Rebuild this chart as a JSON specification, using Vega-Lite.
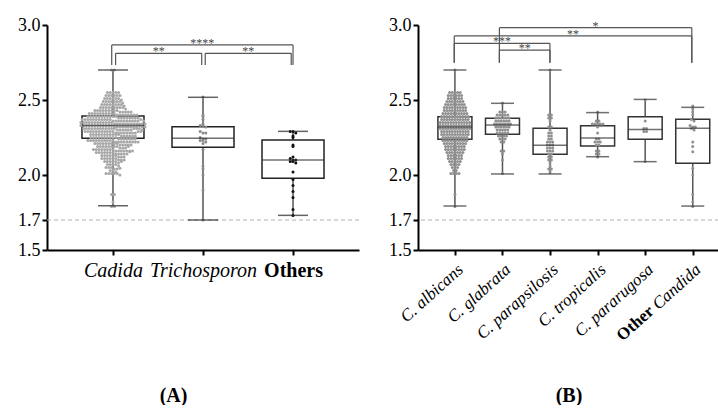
{
"$schema":"https://vega.github.io/schema/vega-lite/v6.json",
"background":"white",
"padding":{"left":17,"top":16,"right":0,"bottom":0},
"bounds":"flush",
"spacing":59,
"config":{"font":"Liberation Serif, Times New Roman, serif","view":{"stroke":null},
 "axis":{"domainColor":"#000","domainWidth":2,"tickColor":"#000","tickWidth":2,"tickSize":5,"labelColor":"#000","labelFont":"Liberation Serif, Times New Roman, serif","titleFont":"Liberation Serif, Times New Roman, serif","titleColor":"#000","grid":false},
 "text":{"font":"Liberation Serif, Times New Roman, serif"}},
"datasets":{
"ref":[{"ref":1.7}],
"otherLabel":[{"g":"Other Candida","t":"Other"}],
"boxA":[
{"g":"Cadida","lo":1.795,"q1":2.245,"med":2.33,"q3":2.393,"hi":2.70},
{"g":"Trichosporon","lo":1.70,"q1":2.185,"med":2.245,"q3":2.322,"hi":2.518},
{"g":"Others","lo":1.731,"q1":1.978,"med":2.10,"q3":2.233,"hi":2.291}],
"boxB":[
{"g":"C. albicans","lo":1.793,"q1":2.238,"med":2.32,"q3":2.389,"hi":2.70},
{"g":"C. glabrata","lo":2.007,"q1":2.271,"med":2.333,"q3":2.378,"hi":2.478},
{"g":"C. parapsilosis","lo":2.007,"q1":2.138,"med":2.198,"q3":2.311,"hi":2.70},
{"g":"C. tropicalis","lo":2.122,"q1":2.193,"med":2.247,"q3":2.329,"hi":2.416},
{"g":"C. pararugosa","lo":2.089,"q1":2.238,"med":2.304,"q3":2.389,"hi":2.504},
{"g":"Other Candida","lo":1.793,"q1":2.078,"med":2.311,"q3":2.371,"hi":2.451}],
"brA":[
{"x1":0.986,"x2":3.0,"y":2.867,"yb":2.733,"t":"****"},
{"x1":1.029,"x2":1.986,"y":2.811,"yb":2.733,"t":"**"},
{"x1":2.025,"x2":2.98,"y":2.811,"yb":2.733,"t":"**"}],
"brB":[
{"x1":1.935,"x2":5.98,"y":2.982,"yb":2.749,"t":"*"},
{"x1":0.986,"x2":5.98,"y":2.927,"yb":2.749,"t":"**"},
{"x1":0.986,"x2":2.998,"y":2.878,"yb":2.749,"t":"***"},
{"x1":1.935,"x2":2.998,"y":2.833,"yb":2.749,"t":"**"}],
"pts":[
{"b":"C. albicans","v":2.70},
{"b":"C. albicans","v":2.55},{"b":"C. albicans","v":2.55},{"b":"C. albicans","v":2.55},{"b":"C. albicans","v":2.55},{"b":"C. albicans","v":2.55},
{"b":"C. albicans","v":2.53},{"b":"C. albicans","v":2.53},{"b":"C. albicans","v":2.53},{"b":"C. albicans","v":2.53},{"b":"C. albicans","v":2.53},{"b":"C. albicans","v":2.53},
{"b":"C. albicans","v":2.51},{"b":"C. albicans","v":2.51},{"b":"C. albicans","v":2.51},{"b":"C. albicans","v":2.51},{"b":"C. albicans","v":2.51},{"b":"C. albicans","v":2.51},
{"b":"C. albicans","v":2.49},{"b":"C. albicans","v":2.49},{"b":"C. albicans","v":2.49},{"b":"C. albicans","v":2.49},{"b":"C. albicans","v":2.49},{"b":"C. albicans","v":2.49},{"b":"C. albicans","v":2.49},
{"b":"C. albicans","v":2.47},{"b":"C. albicans","v":2.47},{"b":"C. albicans","v":2.47},{"b":"C. albicans","v":2.47},{"b":"C. albicans","v":2.47},{"b":"C. albicans","v":2.47},{"b":"C. albicans","v":2.47},{"b":"C. albicans","v":2.47},
{"b":"C. albicans","v":2.45},{"b":"C. albicans","v":2.45},{"b":"C. albicans","v":2.45},{"b":"C. albicans","v":2.45},{"b":"C. albicans","v":2.45},{"b":"C. albicans","v":2.45},{"b":"C. albicans","v":2.45},{"b":"C. albicans","v":2.45},{"b":"C. albicans","v":2.45},
{"b":"C. albicans","v":2.43},{"b":"C. albicans","v":2.43},{"b":"C. albicans","v":2.43},{"b":"C. albicans","v":2.43},{"b":"C. albicans","v":2.43},{"b":"C. albicans","v":2.43},{"b":"C. albicans","v":2.43},{"b":"C. albicans","v":2.43},{"b":"C. albicans","v":2.43},
{"b":"C. albicans","v":2.41},{"b":"C. albicans","v":2.41},{"b":"C. albicans","v":2.41},{"b":"C. albicans","v":2.41},{"b":"C. albicans","v":2.41},{"b":"C. albicans","v":2.41},{"b":"C. albicans","v":2.41},{"b":"C. albicans","v":2.41},{"b":"C. albicans","v":2.41},{"b":"C. albicans","v":2.41},
{"b":"C. albicans","v":2.39},{"b":"C. albicans","v":2.39},{"b":"C. albicans","v":2.39},{"b":"C. albicans","v":2.39},{"b":"C. albicans","v":2.39},{"b":"C. albicans","v":2.39},{"b":"C. albicans","v":2.39},{"b":"C. albicans","v":2.39},{"b":"C. albicans","v":2.39},{"b":"C. albicans","v":2.39},{"b":"C. albicans","v":2.39},
{"b":"C. albicans","v":2.37},{"b":"C. albicans","v":2.37},{"b":"C. albicans","v":2.37},{"b":"C. albicans","v":2.37},{"b":"C. albicans","v":2.37},{"b":"C. albicans","v":2.37},{"b":"C. albicans","v":2.37},{"b":"C. albicans","v":2.37},{"b":"C. albicans","v":2.37},{"b":"C. albicans","v":2.37},{"b":"C. albicans","v":2.37},
{"b":"C. albicans","v":2.35},{"b":"C. albicans","v":2.35},{"b":"C. albicans","v":2.35},{"b":"C. albicans","v":2.35},{"b":"C. albicans","v":2.35},{"b":"C. albicans","v":2.35},{"b":"C. albicans","v":2.35},{"b":"C. albicans","v":2.35},{"b":"C. albicans","v":2.35},{"b":"C. albicans","v":2.35},{"b":"C. albicans","v":2.35},{"b":"C. albicans","v":2.35},
{"b":"C. albicans","v":2.33},{"b":"C. albicans","v":2.33},{"b":"C. albicans","v":2.33},{"b":"C. albicans","v":2.33},{"b":"C. albicans","v":2.33},{"b":"C. albicans","v":2.33},{"b":"C. albicans","v":2.33},{"b":"C. albicans","v":2.33},{"b":"C. albicans","v":2.33},{"b":"C. albicans","v":2.33},{"b":"C. albicans","v":2.33},{"b":"C. albicans","v":2.33},
{"b":"C. albicans","v":2.31},{"b":"C. albicans","v":2.31},{"b":"C. albicans","v":2.31},{"b":"C. albicans","v":2.31},{"b":"C. albicans","v":2.31},{"b":"C. albicans","v":2.31},{"b":"C. albicans","v":2.31},{"b":"C. albicans","v":2.31},{"b":"C. albicans","v":2.31},{"b":"C. albicans","v":2.31},{"b":"C. albicans","v":2.31},{"b":"C. albicans","v":2.31},
{"b":"C. albicans","v":2.29},{"b":"C. albicans","v":2.29},{"b":"C. albicans","v":2.29},{"b":"C. albicans","v":2.29},{"b":"C. albicans","v":2.29},{"b":"C. albicans","v":2.29},{"b":"C. albicans","v":2.29},{"b":"C. albicans","v":2.29},{"b":"C. albicans","v":2.29},{"b":"C. albicans","v":2.29},{"b":"C. albicans","v":2.29},
{"b":"C. albicans","v":2.27},{"b":"C. albicans","v":2.27},{"b":"C. albicans","v":2.27},{"b":"C. albicans","v":2.27},{"b":"C. albicans","v":2.27},{"b":"C. albicans","v":2.27},{"b":"C. albicans","v":2.27},{"b":"C. albicans","v":2.27},{"b":"C. albicans","v":2.27},{"b":"C. albicans","v":2.27},{"b":"C. albicans","v":2.27},
{"b":"C. albicans","v":2.25},{"b":"C. albicans","v":2.25},{"b":"C. albicans","v":2.25},{"b":"C. albicans","v":2.25},{"b":"C. albicans","v":2.25},{"b":"C. albicans","v":2.25},{"b":"C. albicans","v":2.25},{"b":"C. albicans","v":2.25},{"b":"C. albicans","v":2.25},{"b":"C. albicans","v":2.25},
{"b":"C. albicans","v":2.23},{"b":"C. albicans","v":2.23},{"b":"C. albicans","v":2.23},{"b":"C. albicans","v":2.23},{"b":"C. albicans","v":2.23},{"b":"C. albicans","v":2.23},{"b":"C. albicans","v":2.23},{"b":"C. albicans","v":2.23},{"b":"C. albicans","v":2.23},{"b":"C. albicans","v":2.23},
{"b":"C. albicans","v":2.21},{"b":"C. albicans","v":2.21},{"b":"C. albicans","v":2.21},{"b":"C. albicans","v":2.21},{"b":"C. albicans","v":2.21},{"b":"C. albicans","v":2.21},{"b":"C. albicans","v":2.21},{"b":"C. albicans","v":2.21},{"b":"C. albicans","v":2.21},
{"b":"C. albicans","v":2.19},{"b":"C. albicans","v":2.19},{"b":"C. albicans","v":2.19},{"b":"C. albicans","v":2.19},{"b":"C. albicans","v":2.19},{"b":"C. albicans","v":2.19},{"b":"C. albicans","v":2.19},{"b":"C. albicans","v":2.19},
{"b":"C. albicans","v":2.17},{"b":"C. albicans","v":2.17},{"b":"C. albicans","v":2.17},{"b":"C. albicans","v":2.17},{"b":"C. albicans","v":2.17},{"b":"C. albicans","v":2.17},{"b":"C. albicans","v":2.17},{"b":"C. albicans","v":2.17},
{"b":"C. albicans","v":2.15},{"b":"C. albicans","v":2.15},{"b":"C. albicans","v":2.15},{"b":"C. albicans","v":2.15},{"b":"C. albicans","v":2.15},{"b":"C. albicans","v":2.15},{"b":"C. albicans","v":2.15},
{"b":"C. albicans","v":2.13},{"b":"C. albicans","v":2.13},{"b":"C. albicans","v":2.13},{"b":"C. albicans","v":2.13},{"b":"C. albicans","v":2.13},{"b":"C. albicans","v":2.13},
{"b":"C. albicans","v":2.11},{"b":"C. albicans","v":2.11},{"b":"C. albicans","v":2.11},{"b":"C. albicans","v":2.11},{"b":"C. albicans","v":2.11},{"b":"C. albicans","v":2.11},
{"b":"C. albicans","v":2.09},{"b":"C. albicans","v":2.09},{"b":"C. albicans","v":2.09},{"b":"C. albicans","v":2.09},{"b":"C. albicans","v":2.09},
{"b":"C. albicans","v":2.07},{"b":"C. albicans","v":2.07},{"b":"C. albicans","v":2.07},{"b":"C. albicans","v":2.07},
{"b":"C. albicans","v":2.05},{"b":"C. albicans","v":2.05},{"b":"C. albicans","v":2.05},
{"b":"C. albicans","v":2.03},{"b":"C. albicans","v":2.03},
{"b":"C. albicans","v":2.01},{"b":"C. albicans","v":2.01},{"b":"C. albicans","v":2.01},{"b":"C. albicans","v":2.01},
{"b":"C. albicans","v":1.87},
{"b":"C. albicans","v":1.79},
{"b":"C. glabrata","v":2.48},
{"b":"C. glabrata","v":2.42},{"b":"C. glabrata","v":2.42},{"b":"C. glabrata","v":2.42},
{"b":"C. glabrata","v":2.40},{"b":"C. glabrata","v":2.40},{"b":"C. glabrata","v":2.40},{"b":"C. glabrata","v":2.40},{"b":"C. glabrata","v":2.40},
{"b":"C. glabrata","v":2.38},{"b":"C. glabrata","v":2.38},{"b":"C. glabrata","v":2.38},{"b":"C. glabrata","v":2.38},{"b":"C. glabrata","v":2.38},{"b":"C. glabrata","v":2.38},
{"b":"C. glabrata","v":2.36},{"b":"C. glabrata","v":2.36},{"b":"C. glabrata","v":2.36},{"b":"C. glabrata","v":2.36},{"b":"C. glabrata","v":2.36},{"b":"C. glabrata","v":2.36},
{"b":"C. glabrata","v":2.34},{"b":"C. glabrata","v":2.34},{"b":"C. glabrata","v":2.34},{"b":"C. glabrata","v":2.34},{"b":"C. glabrata","v":2.34},{"b":"C. glabrata","v":2.34},{"b":"C. glabrata","v":2.34},
{"b":"C. glabrata","v":2.32},{"b":"C. glabrata","v":2.32},{"b":"C. glabrata","v":2.32},{"b":"C. glabrata","v":2.32},{"b":"C. glabrata","v":2.32},{"b":"C. glabrata","v":2.32},
{"b":"C. glabrata","v":2.30},{"b":"C. glabrata","v":2.30},{"b":"C. glabrata","v":2.30},{"b":"C. glabrata","v":2.30},{"b":"C. glabrata","v":2.30},
{"b":"C. glabrata","v":2.28},{"b":"C. glabrata","v":2.28},{"b":"C. glabrata","v":2.28},{"b":"C. glabrata","v":2.28},{"b":"C. glabrata","v":2.28},
{"b":"C. glabrata","v":2.26},{"b":"C. glabrata","v":2.26},{"b":"C. glabrata","v":2.26},{"b":"C. glabrata","v":2.26},
{"b":"C. glabrata","v":2.24},{"b":"C. glabrata","v":2.24},{"b":"C. glabrata","v":2.24},
{"b":"C. glabrata","v":2.22},{"b":"C. glabrata","v":2.22},
{"b":"C. glabrata","v":2.16},{"b":"C. glabrata","v":2.16},
{"b":"C. glabrata","v":2.14},
{"b":"C. glabrata","v":2.10},
{"b":"C. glabrata","v":2.01},
{"b":"C. parapsilosis","v":2.70},
{"b":"C. parapsilosis","v":2.40},{"b":"C. parapsilosis","v":2.40},
{"b":"C. parapsilosis","v":2.38},{"b":"C. parapsilosis","v":2.38},
{"b":"C. parapsilosis","v":2.36},
{"b":"C. parapsilosis","v":2.32},{"b":"C. parapsilosis","v":2.32},
{"b":"C. parapsilosis","v":2.30},
{"b":"C. parapsilosis","v":2.28},{"b":"C. parapsilosis","v":2.28},
{"b":"C. parapsilosis","v":2.26},{"b":"C. parapsilosis","v":2.26},
{"b":"C. parapsilosis","v":2.24},{"b":"C. parapsilosis","v":2.24},
{"b":"C. parapsilosis","v":2.22},{"b":"C. parapsilosis","v":2.22},{"b":"C. parapsilosis","v":2.22},
{"b":"C. parapsilosis","v":2.20},{"b":"C. parapsilosis","v":2.20},{"b":"C. parapsilosis","v":2.20},
{"b":"C. parapsilosis","v":2.18},{"b":"C. parapsilosis","v":2.18},{"b":"C. parapsilosis","v":2.18},
{"b":"C. parapsilosis","v":2.16},{"b":"C. parapsilosis","v":2.16},{"b":"C. parapsilosis","v":2.16},
{"b":"C. parapsilosis","v":2.14},{"b":"C. parapsilosis","v":2.14},
{"b":"C. parapsilosis","v":2.12},{"b":"C. parapsilosis","v":2.12},
{"b":"C. parapsilosis","v":2.10},{"b":"C. parapsilosis","v":2.10},
{"b":"C. parapsilosis","v":2.08},
{"b":"C. parapsilosis","v":2.06},
{"b":"C. parapsilosis","v":2.04},{"b":"C. parapsilosis","v":2.04},
{"b":"C. parapsilosis","v":2.02},
{"b":"C. tropicalis","v":2.42},
{"b":"C. tropicalis","v":2.36},{"b":"C. tropicalis","v":2.36},
{"b":"C. tropicalis","v":2.34},{"b":"C. tropicalis","v":2.34},{"b":"C. tropicalis","v":2.34},{"b":"C. tropicalis","v":2.34},{"b":"C. tropicalis","v":2.34},
{"b":"C. tropicalis","v":2.32},
{"b":"C. tropicalis","v":2.28},
{"b":"C. tropicalis","v":2.24},{"b":"C. tropicalis","v":2.24},
{"b":"C. tropicalis","v":2.22},{"b":"C. tropicalis","v":2.22},{"b":"C. tropicalis","v":2.22},
{"b":"C. tropicalis","v":2.20},{"b":"C. tropicalis","v":2.20},
{"b":"C. tropicalis","v":2.16},{"b":"C. tropicalis","v":2.16},
{"b":"C. tropicalis","v":2.14},{"b":"C. tropicalis","v":2.14},
{"b":"C. tropicalis","v":2.12},
{"b":"C. pararugosa","v":2.50},
{"b":"C. pararugosa","v":2.36},
{"b":"C. pararugosa","v":2.31},{"b":"C. pararugosa","v":2.31},
{"b":"C. pararugosa","v":2.29},{"b":"C. pararugosa","v":2.29},
{"b":"C. pararugosa","v":2.09},
{"b":"Other Candida","v":2.46},{"b":"Other Candida","v":2.44},{"b":"Other Candida","v":2.42},{"b":"Other Candida","v":2.40},
{"b":"Other Candida","v":2.37},{"b":"Other Candida","v":2.36},{"b":"Other Candida","v":2.33},{"b":"Other Candida","v":2.32},
{"b":"Other Candida","v":2.32},{"b":"Other Candida","v":2.31},{"b":"Other Candida","v":2.30},{"b":"Other Candida","v":2.22},
{"b":"Other Candida","v":2.19},{"b":"Other Candida","v":2.155},{"b":"Other Candida","v":2.045},{"b":"Other Candida","v":2.00},
{"b":"Other Candida","v":1.87},{"b":"Other Candida","v":1.82},{"b":"Other Candida","v":1.79},
{"a":"Trichosporon","v":2.52},{"a":"Trichosporon","v":2.40},{"a":"Trichosporon","v":2.39},{"a":"Trichosporon","v":2.37},
{"a":"Trichosporon","v":2.34},{"a":"Trichosporon","v":2.33},{"a":"Trichosporon","v":2.33},{"a":"Trichosporon","v":2.32},
{"a":"Trichosporon","v":2.29},{"a":"Trichosporon","v":2.28},{"a":"Trichosporon","v":2.28},{"a":"Trichosporon","v":2.25},
{"a":"Trichosporon","v":2.24},{"a":"Trichosporon","v":2.24},{"a":"Trichosporon","v":2.23},{"a":"Trichosporon","v":2.23},
{"a":"Trichosporon","v":2.22},{"a":"Trichosporon","v":2.21},{"a":"Trichosporon","v":2.17},{"a":"Trichosporon","v":2.06},
{"a":"Trichosporon","v":2.04},{"a":"Trichosporon","v":2.00},{"a":"Trichosporon","v":1.90},{"a":"Trichosporon","v":1.70},
{"a":"Others","v":2.29},{"a":"Others","v":2.29},{"a":"Others","v":2.28},{"a":"Others","v":2.26},{"a":"Others","v":2.25},
{"a":"Others","v":2.20},{"a":"Others","v":2.19},{"a":"Others","v":2.12},{"a":"Others","v":2.11},{"a":"Others","v":2.10},
{"a":"Others","v":2.10},{"a":"Others","v":2.09},{"a":"Others","v":2.09},{"a":"Others","v":2.08},{"a":"Others","v":2.02},
{"a":"Others","v":1.97},{"a":"Others","v":1.93},{"a":"Others","v":1.89},{"a":"Others","v":1.85},{"a":"Others","v":1.77},{"a":"Others","v":1.73}
]},
"hconcat":[
{
 "width":312,"height":225,
 "layer":[
  {"data":{"name":"ref"},"mark":{"type":"rule","color":"#b0b0b0","strokeDash":[4,3],"strokeWidth":1},
   "encoding":{"y":{"field":"ref","type":"quantitative","scale":{"domain":[1.5,3.0],"nice":false,"zero":false},
     "axis":{"title":null,"values":[1.5,1.7,2.0,2.5,3.0],"format":".1f","labelFontSize":18,"labelPadding":2}}}},
  {"data":{"name":"boxA"},
   "transform":[{"calculate":"indexof(['Cadida','Trichosporon','Others'], datum.g) + 1","as":"xi"}],
   "layer":[
    {"mark":{"type":"rule","color":"#555","strokeWidth":1.5},
     "encoding":{"x":{"field":"xi","type":"quantitative","scale":{"domain":[0.3226,3.6774],"nice":false,"zero":false},
       "axis":{"title":"(A)","values":[1,2,3],"labelExpr":"['','Cadida','Trichosporon','Others'][datum.value]","labelFontSize":20,
        "labelFontStyle":{"condition":{"test":"datum.value == 3","value":"normal"},"value":"italic"},
        "labelFontWeight":{"condition":{"test":"datum.value == 3","value":"bold"},"value":"normal"},
        "labelPadding":5,"labelAngle":0,"labelOverlap":false,"labelFlush":false,"labelBound":false,
        "titleFontSize":20,"titleFontWeight":"bold","titleX":126,"titleY":145,"titleBaseline":"middle"}},
      "y":{"field":"lo","type":"quantitative"},"y2":{"field":"q1"}}},
    {"mark":{"type":"rule","color":"#555","strokeWidth":1.5},
     "encoding":{"x":{"field":"xi","type":"quantitative"},"y":{"field":"q3","type":"quantitative"},"y2":{"field":"hi"}}},
    {"mark":{"type":"bar","size":62,"fill":"white","fillOpacity":0,"stroke":"#222","strokeWidth":1.5},
     "encoding":{"x":{"field":"xi","type":"quantitative"},"y":{"field":"q1","type":"quantitative"},"y2":{"field":"q3"}}}
   ]},
  {"data":{"name":"pts"},
   "transform":[
    {"calculate":"isValid(datum.a) ? datum.a : 'Cadida'","as":"ga"},
    {"calculate":"indexof(['Cadida','Trichosporon','Others'], datum.ga) + 1","as":"xi"},
    {"calculate":"floor(datum.v * 50 + 0.25)","as":"vb"},
    {"window":[{"op":"row_number","as":"rn"}],"groupby":["ga","vb"]},
    {"joinaggregate":[{"op":"count","as":"n"}],"groupby":["ga","vb"]},
    {"calculate":"datum.xi + (datum.rn - 1 - (datum.n - 1) / 2) * 0.031","as":"xs"}],
   "mark":{"type":"point","filled":true,"size":9,"opacity":1},
   "encoding":{"x":{"field":"xs","type":"quantitative"},"y":{"field":"v","type":"quantitative"},
    "color":{"field":"ga","type":"nominal","scale":{"domain":["Cadida","Trichosporon","Others"],"range":["#a8a8a8","#8a8a8a","#111111"]},"legend":null}}},
  {"data":{"name":"boxA"},
   "transform":[{"calculate":"indexof(['Cadida','Trichosporon','Others'], datum.g) + 1","as":"xi"}],
   "layer":[
    {"mark":{"type":"tick","orient":"horizontal","size":62,"thickness":1.5,"color":"#333"},
     "encoding":{"x":{"field":"xi","type":"quantitative"},"y":{"field":"med","type":"quantitative"}}},
    {"mark":{"type":"tick","orient":"horizontal","size":30,"thickness":1.5,"color":"#222"},
     "encoding":{"x":{"field":"xi","type":"quantitative"},"y":{"field":"lo","type":"quantitative"}}},
    {"mark":{"type":"tick","orient":"horizontal","size":30,"thickness":1.5,"color":"#222"},
     "encoding":{"x":{"field":"xi","type":"quantitative"},"y":{"field":"hi","type":"quantitative"}}}
   ]},
  {"data":{"name":"brA"},
   "transform":[{"calculate":"(datum.x1 + datum.x2) / 2","as":"xm"}],
   "layer":[
    {"mark":{"type":"rule","color":"#555","strokeWidth":1.2},
     "encoding":{"x":{"field":"x1","type":"quantitative"},"x2":{"field":"x2"},"y":{"field":"y","type":"quantitative"}}},
    {"mark":{"type":"rule","color":"#555","strokeWidth":1.2},
     "encoding":{"x":{"field":"x1","type":"quantitative"},"y":{"field":"y","type":"quantitative"},"y2":{"field":"yb"}}},
    {"mark":{"type":"rule","color":"#555","strokeWidth":1.2},
     "encoding":{"x":{"field":"x2","type":"quantitative"},"y":{"field":"y","type":"quantitative"},"y2":{"field":"yb"}}},
    {"mark":{"type":"text","fontSize":12,"color":"#444","baseline":"alphabetic","dy":2},
     "encoding":{"x":{"field":"xm","type":"quantitative"},"y":{"field":"y","type":"quantitative"},"text":{"field":"t"}}}
   ]}
 ]
},
{
 "width":301,"height":225,
 "layer":[
  {"data":{"name":"ref"},"mark":{"type":"rule","color":"#b0b0b0","strokeDash":[4,3],"strokeWidth":1},
   "encoding":{"y":{"field":"ref","type":"quantitative","scale":{"domain":[1.5,3.0],"nice":false,"zero":false},
     "axis":{"title":null,"values":[1.5,1.7,2.0,2.5,3.0],"format":".1f","labelFontSize":18,"labelPadding":2}}}},
  {"data":{"name":"boxB"},
   "transform":[{"calculate":"indexof(['C. albicans','C. glabrata','C. parapsilosis','C. tropicalis','C. pararugosa','Other Candida'], datum.g) + 1","as":"xi"}],
   "layer":[
    {"mark":{"type":"rule","color":"#555","strokeWidth":1.5},
     "encoding":{"x":{"field":"xi","type":"quantitative","scale":{"domain":[0.329,6.447],"nice":false,"zero":false},
       "axis":{"title":"(B)","values":[1,2,3,4,5,6],"labelExpr":"['','C. albicans','C. glabrata','C. parapsilosis','C. tropicalis','C. pararugosa','Candida'][datum.value]",
        "labelFontSize":17,"labelFontStyle":"italic","labelAngle":-42,"labelAlign":"right","labelBaseline":"top","labelPadding":6,
        "labelOverlap":false,"labelFlush":false,"labelBound":false,
        "titleFontSize":20,"titleFontWeight":"bold","titleY":145,"titleBaseline":"middle"}},
      "y":{"field":"lo","type":"quantitative"},"y2":{"field":"q1"}}},
    {"mark":{"type":"rule","color":"#555","strokeWidth":1.5},
     "encoding":{"x":{"field":"xi","type":"quantitative"},"y":{"field":"q3","type":"quantitative"},"y2":{"field":"hi"}}},
    {"mark":{"type":"bar","size":34,"fill":"white","fillOpacity":0,"stroke":"#333","strokeWidth":1.5},
     "encoding":{"x":{"field":"xi","type":"quantitative"},"y":{"field":"q1","type":"quantitative"},"y2":{"field":"q3"}}}
   ]},
  {"data":{"name":"pts"},
   "transform":[
    {"filter":"isValid(datum.b)"},
    {"calculate":"indexof(['C. albicans','C. glabrata','C. parapsilosis','C. tropicalis','C. pararugosa','Other Candida'], datum.b) + 1","as":"xi"},
    {"calculate":"floor(datum.v * 50 + 0.25)","as":"vb"},
    {"window":[{"op":"row_number","as":"rn"}],"groupby":["b","vb"]},
    {"joinaggregate":[{"op":"count","as":"n"}],"groupby":["b","vb"]},
    {"calculate":"datum.xi + (datum.rn - 1 - (datum.n - 1) / 2) * 0.056","as":"xs"}],
   "mark":{"type":"point","filled":true,"size":9,"opacity":1,"color":"#909090"},
   "encoding":{"x":{"field":"xs","type":"quantitative"},"y":{"field":"v","type":"quantitative"}}},
  {"data":{"name":"boxB"},
   "transform":[{"calculate":"indexof(['C. albicans','C. glabrata','C. parapsilosis','C. tropicalis','C. pararugosa','Other Candida'], datum.g) + 1","as":"xi"}],
   "layer":[
    {"mark":{"type":"tick","orient":"horizontal","size":34,"thickness":1.5,"color":"#333"},
     "encoding":{"x":{"field":"xi","type":"quantitative"},"y":{"field":"med","type":"quantitative"}}},
    {"mark":{"type":"tick","orient":"horizontal","size":23,"thickness":1.5,"color":"#333"},
     "encoding":{"x":{"field":"xi","type":"quantitative"},"y":{"field":"lo","type":"quantitative"}}},
    {"mark":{"type":"tick","orient":"horizontal","size":23,"thickness":1.5,"color":"#333"},
     "encoding":{"x":{"field":"xi","type":"quantitative"},"y":{"field":"hi","type":"quantitative"}}}
   ]},
  {"data":{"name":"brB"},
   "transform":[{"calculate":"(datum.x1 + datum.x2) / 2","as":"xm"}],
   "layer":[
    {"mark":{"type":"rule","color":"#555","strokeWidth":1.2},
     "encoding":{"x":{"field":"x1","type":"quantitative"},"x2":{"field":"x2"},"y":{"field":"y","type":"quantitative"}}},
    {"mark":{"type":"rule","color":"#555","strokeWidth":1.2},
     "encoding":{"x":{"field":"x1","type":"quantitative"},"y":{"field":"y","type":"quantitative"},"y2":{"field":"yb"}}},
    {"mark":{"type":"rule","color":"#555","strokeWidth":1.2},
     "encoding":{"x":{"field":"x2","type":"quantitative"},"y":{"field":"y","type":"quantitative"},"y2":{"field":"yb"}}},
    {"mark":{"type":"text","fontSize":12,"color":"#444","baseline":"alphabetic","dy":2},
     "encoding":{"x":{"field":"xm","type":"quantitative"},"y":{"field":"y","type":"quantitative"},"text":{"field":"t"}}}
   ]},
  {"data":{"name":"otherLabel"},
   "transform":[{"calculate":"indexof(['C. albicans','C. glabrata','C. parapsilosis','C. tropicalis','C. pararugosa','Other Candida'], datum.g) + 1","as":"xi"}],
   "mark":{"type":"text","angle":318,"align":"right","baseline":"top","fontSize":17,"fontWeight":"bold","color":"#000","dx":-70,"dy":8.2},
   "encoding":{"x":{"field":"xi","type":"quantitative"},"y":{"datum":1.5,"type":"quantitative"},"text":{"field":"t"}}}
 ]
}
]
}
